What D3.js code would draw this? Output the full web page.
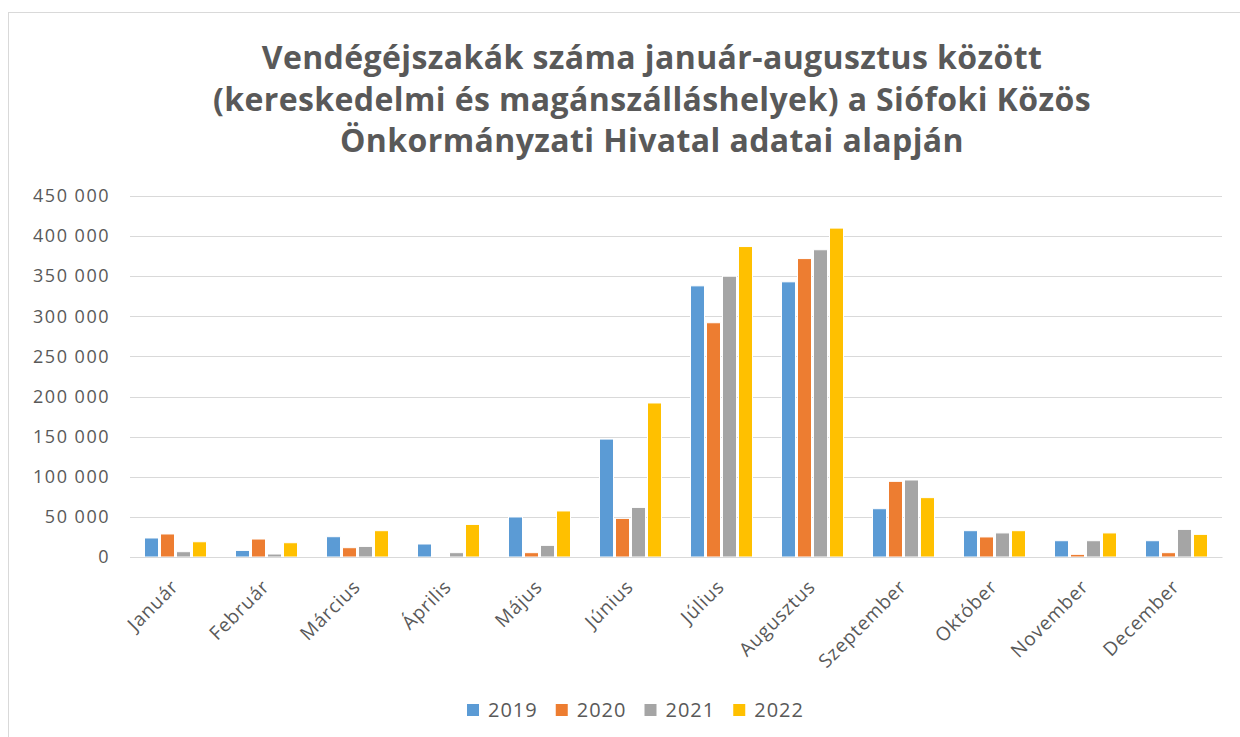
<!DOCTYPE html>
<html>
<head>
<meta charset="utf-8">
<script src="https://cdn.jsdelivr.net/npm/d3@7"></script>
<style>
  body { margin: 0; background: #fff; }
  svg text { font-family: "Open Sans", "DejaVu Sans", sans-serif; fill: #595959; }
</style>
</head>
<body>
<div id="chart"></div>
<script>
const months = ["Január", "Február", "Március", "Április", "Május", "Június",
  "Július", "Augusztus", "Szeptember", "Október", "November", "December"];
const years = ["2019", "2020", "2021", "2022"];
const v2019 = [23700, 8200, 25300, 16200, 49900, 147000, 338000, 343000, 60200, 32800, 20300, 20300];
const v2020 = [28700, 22400, 11600, 0, 5400, 48100, 292000, 372000, 94300, 25000, 3300, 5400];
const v2021 = [6600, 3700, 13200, 5400, 14500, 61800, 350000, 383000, 96000, 30000, 20300, 34400];
const v2022 = [19000, 17800, 32800, 40600, 57400, 192000, 387000, 410000, 74000, 32800, 30000, 28200];
const yTicks = [0, 50000, 100000, 150000, 200000, 250000, 300000, 350000, 400000, 450000];
const colors = ["#5B9BD5", "#ED7D31", "#A5A5A5", "#FFC000"];
const titleLines = [
  "Vendégéjszakák száma január-augusztus között",
  "(kereskedelmi és magánszálláshelyek) a Siófoki Közös",
  "Önkormányzati Hivatal adatai alapján"
];

const series = [v2019, v2020, v2021, v2022];
const width = 1240, height = 737;
const margin = { left: 130, right: 18, top: 196, bottom: 180 };
const groupWidth = 64;

const svg = d3.select("#chart").append("svg")
  .attr("width", width)
  .attr("height", height);

// chart frame
svg.append("rect")
  .attr("x", 8.5).attr("y", 12.5)
  .attr("width", width + 10).attr("height", height + 10)
  .attr("fill", "#fff")
  .attr("stroke", "#d9d9d9");

// title
svg.append("g").selectAll("text")
  .data(titleLines)
  .join("text")
  .attr("x", 652)
  .attr("y", (d, i) => 69 + i * 41.5)
  .attr("text-anchor", "middle")
  .style("font-size", "32px")
  .style("font-weight", "bold")
  .style("letter-spacing", "0.4px")
  .text(d => d);

const x = d3.scaleBand()
  .domain(months)
  .range([margin.left, width - margin.right]);

const xInner = d3.scaleBand()
  .domain(years)
  .range([0, groupWidth]);

const y = d3.scaleLinear()
  .domain([0, 450000])
  .range([557, 196]);

// gridlines
svg.append("g")
  .selectAll("line")
  .data(yTicks)
  .join("line")
  .attr("x1", margin.left)
  .attr("x2", width - margin.right)
  .attr("y1", d => Math.round(y(d)) + 0.5)
  .attr("y2", d => Math.round(y(d)) + 0.5)
  .attr("stroke", "#d9d9d9")
  .attr("stroke-width", 1);

// y axis
const fmt = d => d3.format(",")(d).replace(/,/g, " ");
const yAxis = d3.axisLeft(y).tickValues(yTicks).tickFormat(fmt).tickSize(0).tickPadding(20);
const gy = svg.append("g")
  .attr("transform", "translate(" + margin.left + ",0)")
  .call(yAxis);
gy.select(".domain").remove();
gy.selectAll("text")
  .style("font-size", "18px")
  .style("letter-spacing", "1.5px")
  .attr("fill", "#595959");

// bars
const groupOffset = (x.bandwidth() - groupWidth) / 2;
series.forEach((vals, si) => {
  svg.append("g")
    .selectAll("rect")
    .data(vals)
    .join("rect")
    .attr("x", (d, i) => x(months[i]) + groupOffset + xInner(years[si]) + 1)
    .attr("width", xInner.bandwidth() - 2)
    .attr("y", d => y(d))
    .attr("height", d => y(0) - y(d))
    .attr("fill", colors[si])
    .attr("stroke", "#fff")
    .attr("stroke-width", 1);
});

// x axis
const xAxis = d3.axisBottom(x).tickSize(0);
const gx = svg.append("g")
  .attr("transform", "translate(0," + 557 + ")")
  .call(xAxis);
gx.select(".domain").attr("stroke", "#d9d9d9");
gx.selectAll("text")
  .style("font-size", "19px")
  .style("letter-spacing", "0.8px")
  .attr("fill", "#595959")
  .attr("text-anchor", "end")
  .attr("x", 0)
  .attr("y", 0)
  .attr("dy", 0)
  .attr("transform", "translate(4,31) rotate(-45)");

// legend
const legend = svg.append("g")
  .attr("transform", "translate(467,710)");
const legendX = d3.scaleBand().domain(years).range([0, 355]);
const item = legend.selectAll("g")
  .data(years)
  .join("g")
  .attr("transform", d => "translate(" + legendX(d) + ",0)");
item.append("rect")
  .attr("x", 0).attr("y", -6)
  .attr("width", 12).attr("height", 12)
  .attr("fill", (d, i) => colors[i]);
item.append("text")
  .attr("x", 21).attr("y", 0)
  .attr("dy", "0.35em")
  .style("font-size", "20px")
  .style("letter-spacing", "1px")
  .text(d => d);
</script>
</body>
</html>
